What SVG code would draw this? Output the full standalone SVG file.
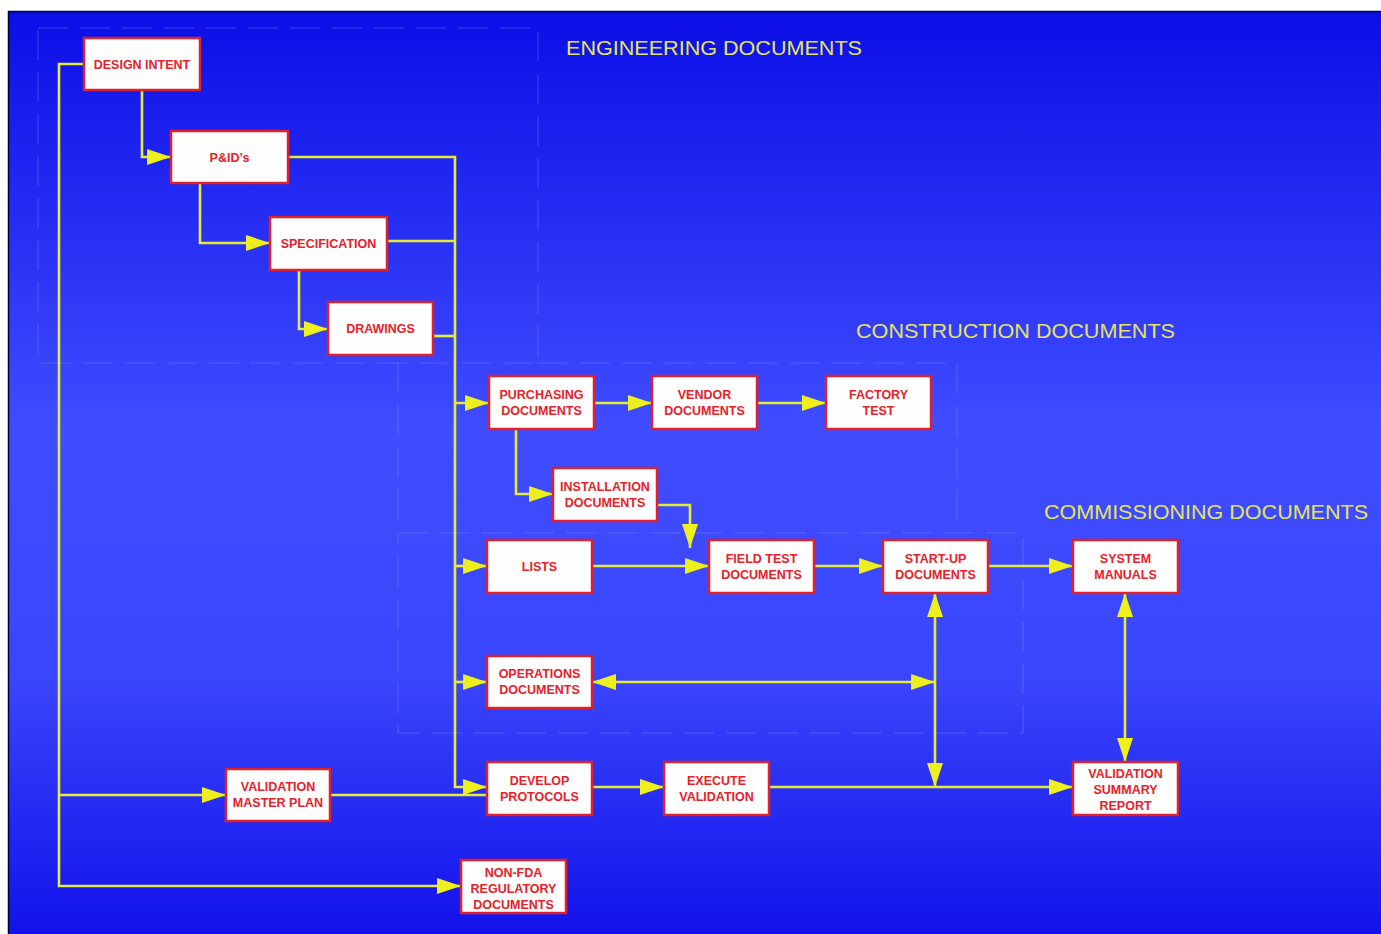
<svg xmlns="http://www.w3.org/2000/svg" width="1381" height="934" viewBox="0 0 1381 934">
<defs>
<linearGradient id="bg" x1="0" y1="0" x2="0" y2="1">
<stop offset="0" stop-color="#0c0ee6"/>
<stop offset="0.45" stop-color="#3f4cff"/>
<stop offset="0.72" stop-color="#3a46fb"/>
<stop offset="1" stop-color="#1212ea"/>
</linearGradient>
<marker id="arr" markerUnits="userSpaceOnUse" markerWidth="26" markerHeight="18" refX="24" refY="8" orient="auto-start-reverse" viewBox="0 0 26 18">
<path d="M0,0 L24,8 L0,16 Z" fill="#eef01e"/>
</marker>
<style>
.node rect{fill:#fefefe;stroke:#e2202c;stroke-width:2.5}
.node text{font-family:"Liberation Sans",Arial,sans-serif;font-weight:bold;font-size:12.5px;fill:#e8202a;text-anchor:middle}
.c{fill:none;stroke:#e4ec34;stroke-width:2.6}
.ae{marker-end:url(#arr)}
.ab{marker-start:url(#arr);marker-end:url(#arr)}
.dash{fill:none;stroke:#8a9af4;stroke-opacity:0.35;stroke-width:1;stroke-dasharray:30 12}
.hdr{font-family:"Liberation Sans",Arial,sans-serif;font-size:21px;fill:#e4e45c}
</style>
</defs>
<rect x="0" y="0" width="1381" height="934" fill="#ffffff"/>
<rect x="8" y="11" width="1373" height="923" fill="url(#bg)"/>
<path d="M8,11.5 H1381 M8.5,11 V934" stroke="#000038" stroke-width="1.5" fill="none"/>

<g id="regions">
<rect class="dash" x="38" y="28" width="500" height="335"/>
<path class="dash" d="M538,363 H957 V531 M398,363 V531"/>
<rect class="dash" x="398" y="533" width="625" height="200"/>
</g>

<g id="headers">
<text class="hdr" x="566" y="55" textLength="296" lengthAdjust="spacingAndGlyphs">ENGINEERING DOCUMENTS</text>
<text class="hdr" x="856" y="338" textLength="319" lengthAdjust="spacingAndGlyphs">CONSTRUCTION DOCUMENTS</text>
<text class="hdr" x="1044" y="519" textLength="324" lengthAdjust="spacingAndGlyphs">COMMISSIONING DOCUMENTS</text>
</g>

<g id="connectors">
<path class="c ae" d="M142,90 V157 H171"/>
<path class="c ae" d="M200,183 V243 H270"/>
<path class="c ae" d="M299,270 V329 H328"/>
<path class="c ae" d="M288,157 H455 V787 H487"/>
<path class="c" d="M387,241 H455"/>
<path class="c" d="M433,336 H455"/>
<path class="c ae" d="M455,403 H489"/>
<path class="c ae" d="M455,566 H487"/>
<path class="c ae" d="M455,682 H487"/>
<path class="c ae" d="M594,403 H652"/>
<path class="c ae" d="M757,403 H826"/>
<path class="c ae" d="M516,429 V494 H553"/>
<path class="c ae" d="M657,505 H690 V548"/>
<path class="c ae" d="M592,566 H709"/>
<path class="c ae" d="M814,566 H883"/>
<path class="c ae" d="M988,566 H1073"/>
<path class="c ab" d="M592,682 H935"/>
<path class="c ab" d="M935,593 V787"/>
<path class="c ae" d="M592,787 H664"/>
<path class="c ae" d="M769,787 H1073"/>
<path class="c ab" d="M1125,593 V762"/>
<path class="c ae" d="M84,64 H59 V886 H461"/>
<path class="c ae" d="M59,795 H226"/>
<path class="c" d="M330,795 H487"/>
</g>

<g id="design-intent" class="node"><rect x="84" y="38" width="116" height="52"/><text x="142" y="68.5">DESIGN INTENT</text></g>
<g id="pids" class="node"><rect x="171" y="131" width="117" height="52"/><text x="229.5" y="161.5">P&amp;ID’s</text></g>
<g id="specification" class="node"><rect x="270" y="217" width="117" height="53"/><text x="328.5" y="248">SPECIFICATION</text></g>
<g id="drawings" class="node"><rect x="328" y="302" width="105" height="53"/><text x="380.5" y="333">DRAWINGS</text></g>
<g id="purchasing" class="node"><rect x="489" y="376" width="105" height="53"/><text x="541.5" y="398.5">PURCHASING</text><text x="541.5" y="414.5">DOCUMENTS</text></g>
<g id="vendor" class="node"><rect x="652" y="376" width="105" height="53"/><text x="704.5" y="398.5">VENDOR</text><text x="704.5" y="414.5">DOCUMENTS</text></g>
<g id="factory-test" class="node"><rect x="826" y="376" width="105" height="53"/><text x="878.5" y="398.5">FACTORY</text><text x="878.5" y="414.5">TEST</text></g>
<g id="installation" class="node"><rect x="553" y="468" width="104" height="53"/><text x="605" y="490.5">INSTALLATION</text><text x="605" y="506.5">DOCUMENTS</text></g>
<g id="lists" class="node"><rect x="487" y="540" width="105" height="53"/><text x="539.5" y="571">LISTS</text></g>
<g id="field-test" class="node"><rect x="709" y="540" width="105" height="53"/><text x="761.5" y="562.5">FIELD TEST</text><text x="761.5" y="578.5">DOCUMENTS</text></g>
<g id="start-up" class="node"><rect x="883" y="540" width="105" height="53"/><text x="935.5" y="562.5">START-UP</text><text x="935.5" y="578.5">DOCUMENTS</text></g>
<g id="system-manuals" class="node"><rect x="1073" y="540" width="105" height="53"/><text x="1125.5" y="562.5">SYSTEM</text><text x="1125.5" y="578.5">MANUALS</text></g>
<g id="operations" class="node"><rect x="487" y="656" width="105" height="52"/><text x="539.5" y="678">OPERATIONS</text><text x="539.5" y="694">DOCUMENTS</text></g>
<g id="develop-protocols" class="node"><rect x="487" y="762" width="105" height="53"/><text x="539.5" y="784.5">DEVELOP</text><text x="539.5" y="800.5">PROTOCOLS</text></g>
<g id="execute-validation" class="node"><rect x="664" y="762" width="105" height="53"/><text x="716.5" y="784.5">EXECUTE</text><text x="716.5" y="800.5">VALIDATION</text></g>
<g id="validation-summary" class="node"><rect x="1073" y="762" width="105" height="53"/><text x="1125.5" y="778">VALIDATION</text><text x="1125.5" y="794">SUMMARY</text><text x="1125.5" y="810">REPORT</text></g>
<g id="validation-master-plan" class="node"><rect x="226" y="769" width="104" height="52"/><text x="278" y="791">VALIDATION</text><text x="278" y="807">MASTER PLAN</text></g>
<g id="non-fda" class="node"><rect x="461" y="860" width="105" height="53"/><text x="513.5" y="876.5">NON-FDA</text><text x="513.5" y="892.5">REGULATORY</text><text x="513.5" y="908.5">DOCUMENTS</text></g>
</svg>
